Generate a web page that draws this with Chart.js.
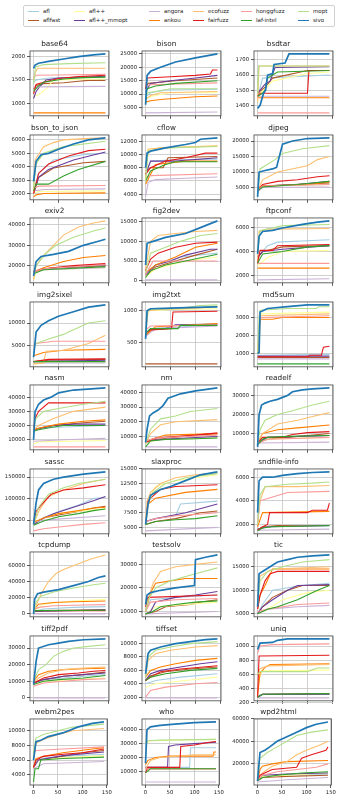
<!DOCTYPE html>
<html>
<head>
<meta charset="utf-8">
<script src="https://cdn.jsdelivr.net/npm/chart.js@4.4.1/dist/chart.umd.min.js"></script>
<style>
  body { margin: 0; background: #fff; width: 341px; height: 800px; position: relative; overflow: hidden; font-family: "DejaVu Sans", sans-serif; }
  canvas { position: absolute; }
  #legend { position: absolute; left: 23px; top: 5px; width: 312px; height: 22px; border: 1px solid #d0d0d0; border-radius: 2px; box-sizing: border-box; }
  .item { position: absolute; font-size: 5.5px; color: #222; white-space: nowrap; line-height: 7px; height: 7px; }
  .sw { position: absolute; left: 0; top: 3px; width: 11px; }
  .lbl { position: absolute; left: 15px; top: 0; }
</style>
</head>
<body>
<div id="legend"></div>
<script>
// Fuzzers, in plotting order, and their line colours
const fuzzers = ['afl', 'aflfast', 'afl++', 'afl++_mmopt', 'angora', 'ankou', 'ecofuzz', 'fairfuzz', 'honggfuzz', 'laf-intel', 'mopt', 'sivo'];
const fuzzerColors = ['#a6cee3', '#b15928', '#ffff99', '#6a3d9a', '#cab2d6', '#ff7f00', '#fdbf6f', '#e31a1c', '#fb9a99', '#33a02c', '#b2df8a', '#1f78b4'];

// Benchmarks, one panel each
const programs = ['base64', 'bison', 'bsdtar', 'bson_to_json', 'cflow', 'djpeg', 'exiv2', 'fig2dev', 'ftpconf',
  'img2sixel', 'img2txt', 'md5sum', 'nasm', 'nm', 'readelf', 'sassc', 'slaxproc', 'sndfile-info',
  'tcpdump', 'testsolv', 'tic', 'tiff2pdf', 'tiffset', 'uniq', 'webm2pes', 'who', 'wpd2html'];

// Tick labels
const hourTicks = [0, 50, 100, 150];
const yTicks = [
  [1000, 1500, 2000], [5000, 10000, 15000, 20000, 25000], [1400, 1500, 1600, 1700],
  [2000, 3000, 4000, 5000, 6000], [4000, 6000, 8000, 10000, 12000], [5000, 10000, 15000, 20000],
  [20000, 30000, 40000], [0, 5000, 10000, 15000], [2000, 4000, 6000],
  [5000, 10000], [500, 1000], [1000, 2000, 3000],
  [10000, 20000, 30000, 40000], [10000, 20000, 30000, 40000], [10000, 20000, 30000],
  [50000, 100000, 150000], [5000, 7500, 10000, 12500, 15000], [2000, 4000, 6000],
  [0, 20000, 40000, 60000], [10000, 20000, 30000], [5000, 10000, 15000],
  [0, 10000, 20000, 30000], [2000, 4000, 6000, 8000, 10000], [200, 400, 600, 800, 1000],
  [4000, 6000, 8000, 10000], [10000, 20000, 30000, 40000], [20000, 40000, 60000]
];

// Coverage over time: per benchmark, one [hour, edges] series per fuzzer (same order as fuzzers)
const base64 = [
  [[0,1450],[5,1500],[30,1540],[144,1560]],
  [[0,1300],[5,1380],[20,1420],[60,1440],[90,1470],[110,1490],[144,1490]],
  [[0,1150],[10,1180],[25,1300],[40,1500],[144,1520]],
  [[0,1100],[5,1250],[12,1350],[25,1500],[50,1540],[144,1580]],
  [[0,1350],[144,1360]],
  [[0,790],[144,790]],
  [[0,1500],[3,1650],[8,1750],[144,1750]],
  [[0,1200],[5,1400],[20,1450],[50,1530],[90,1570],[144,1600]],
  [[0,1550],[5,1600],[80,1610],[144,1620]],
  [[0,1250],[8,1350],[20,1450],[60,1520],[100,1550],[144,1560]],
  [[0,1400],[4,1780],[20,1830],[70,1850],[144,1870]],
  [[0,1750],[3,1820],[10,1860],[30,1900],[60,1950],[90,2000],[120,2040],[144,2060]]
];
const bison = [
  [[0,9000],[10,10500],[40,11500],[144,11800]],
  [[0,12000],[5,14000],[60,15000],[144,16000]],
  [[0,8500],[20,9500],[50,10500],[144,10500]],
  [[0,11000],[10,14000],[50,15000],[100,16000],[144,17000]],
  [[0,3000],[144,3300]],
  [[0,7000],[10,7500],[30,8000],[100,9000],[144,9300]],
  [[0,8000],[10,9500],[30,10500],[144,11000]],
  [[0,12000],[3,16000],[50,16500],[100,17000],[130,17500],[134,19000],[144,19000]],
  [[0,13000],[10,13500],[144,14200]],
  [[0,7000],[3,12000],[20,13000],[60,14000],[144,15000]],
  [[0,9000],[5,10500],[20,11000],[50,12000],[144,12000]],
  [[0,6000],[3,17000],[10,18500],[30,20000],[60,22000],[100,23500],[144,25000]]
];
const bsdtar = [
  [[0,1450],[10,1580],[144,1600]],
  [[0,1480],[15,1520],[30,1580],[100,1630],[144,1630]],
  [[0,1460],[30,1560],[100,1610],[144,1620]],
  [[0,1480],[15,1540],[25,1560],[35,1650],[144,1655]],
  [[0,1460],[144,1460]],
  [[0,1450],[144,1450]],
  [[0,1420],[3,1660],[144,1660]],
  [[0,1460],[5,1480],[100,1480],[103,1630],[144,1630]],
  [[0,1350],[144,1350]],
  [[0,1460],[10,1480],[15,1500],[20,1580],[40,1620],[144,1630]],
  [[0,1480],[2,1660],[144,1660]],
  [[0,1380],[5,1400],[12,1480],[16,1500],[20,1600],[30,1610],[33,1670],[55,1680],[63,1740],[144,1740]]
];
const bson_to_json = [
  [[0,2200],[10,3500],[40,4500],[100,4900],[144,5000]],
  [[0,2000],[10,3200],[40,3900],[100,4300],[144,4400]],
  [[0,2000],[10,2150],[144,2200]],
  [[0,2000],[10,3200],[30,3800],[80,4500],[144,5100]],
  [[0,2200],[20,2300],[144,2350]],
  [[0,1750],[5,1900],[20,2000],[144,2050]],
  [[0,2000],[3,4500],[20,5500],[40,5800],[60,6000],[100,6100],[144,6150]],
  [[0,2000],[10,3500],[30,4200],[70,4800],[110,5200],[144,5300]],
  [[0,2400],[10,2550],[144,2600]],
  [[0,2200],[5,2700],[30,2700],[60,3300],[90,3800],[144,4400]],
  [[0,2500],[5,4200],[20,5000],[60,5500],[144,5900]],
  [[0,2900],[5,4400],[15,4900],[30,5000],[50,5300],[80,5700],[110,6000],[144,6150]]
];
const cflow = [
  [[0,7000],[10,9000],[60,9200],[144,9300]],
  [[0,7500],[10,8000],[35,8000],[45,9500],[144,9700]],
  [[0,6000],[5,10800],[40,11000],[144,11300]],
  [[0,7000],[10,9000],[60,9000],[144,9500]],
  [[0,3600],[5,5800],[20,6200],[80,6400],[144,6600]],
  [[0,5500],[20,8500],[80,9000],[144,9000]],
  [[0,6000],[5,10800],[30,11000],[144,11300]],
  [[0,7000],[10,8000],[40,9000],[80,9500],[120,10200],[144,10200]],
  [[0,6500],[10,6800],[144,7100]],
  [[0,6000],[10,7500],[40,8500],[60,8900],[144,8900]],
  [[0,6000],[5,10500],[40,11000],[144,11200]],
  [[0,8000],[3,10200],[10,10500],[40,11000],[80,11500],[100,11800],[110,12300],[144,12500]]
];
const djpeg = [
  [[0,4000],[10,5500],[144,6000]],
  [[0,4000],[10,5500],[144,6500]],
  [[0,4000],[10,5500],[144,6000]],
  [[0,4000],[10,5500],[80,6000],[144,7000]],
  [[0,3500],[10,5000],[144,5200]],
  [[0,4000],[10,5500],[100,6000],[144,6800]],
  [[0,4000],[10,7500],[40,10000],[100,12000],[120,14000],[144,15000]],
  [[0,4000],[10,6000],[40,7000],[80,7500],[120,8500],[144,8800]],
  [[0,4000],[10,5500],[144,6000]],
  [[0,4000],[10,5200],[80,6000],[144,7000]],
  [[0,3000],[5,11000],[20,12500],[35,14000],[50,16000],[90,17500],[144,18500]],
  [[0,2000],[3,10000],[15,10500],[30,11000],[38,11500],[42,14000],[50,19000],[70,20000],[100,20800],[144,21000]]
];
const exiv2 = [
  [[0,17000],[20,18500],[144,20000]],
  [[0,17000],[20,18500],[144,20000]],
  [[0,13000],[5,17000],[20,18000],[144,19000]],
  [[0,17000],[20,18500],[144,20500]],
  [[0,17000],[20,18000],[144,19000]],
  [[0,17000],[20,19000],[60,22000],[100,24000],[144,25000]],
  [[0,13000],[5,20000],[20,25000],[40,30000],[60,35000],[90,39000],[120,41000],[144,42000]],
  [[0,17000],[20,18500],[80,20000],[144,21000]],
  [[0,17000],[20,18500],[144,20500]],
  [[0,16000],[20,18000],[144,19500]],
  [[0,15000],[5,20000],[25,26000],[45,30000],[80,34000],[120,37000],[144,38500]],
  [[0,15000],[5,22000],[15,24500],[40,25500],[70,27000],[100,30000],[130,32000],[144,33000]]
];
const fig2dev = [
  [[0,1000],[20,4000],[70,6000],[144,7000]],
  [[0,1000],[20,3500],[60,5000],[100,6500],[144,8000]],
  [[0,1000],[20,3000],[80,5000],[144,6000]],
  [[0,1500],[20,4000],[50,5000],[80,6500],[130,8000],[144,8000]],
  [[0,200],[144,200]],
  [[0,2000],[20,4000],[60,6000],[100,8500],[144,9500]],
  [[0,3000],[10,10000],[25,11500],[60,12000],[100,12500],[144,12800]],
  [[0,2500],[10,5500],[25,7000],[60,8500],[100,9500],[144,9800]],
  [[0,1500],[15,5000],[144,5000]],
  [[0,800],[10,2500],[40,4000],[80,5000],[144,6700]],
  [[0,2000],[10,7000],[40,8500],[70,10000],[110,11500],[144,12000]],
  [[0,4000],[3,9500],[15,10000],[40,11000],[80,12000],[110,13500],[130,14500],[144,15200]]
];
const ftpconf = [
  [[0,3500],[20,4500],[40,4800],[144,5000]],
  [[0,3500],[10,4000],[50,4400],[144,4500]],
  [[0,2800],[20,3500],[50,4000],[144,4100]],
  [[0,3500],[10,4000],[50,4200],[144,4500]],
  [[0,1600],[144,1700]],
  [[0,2600],[144,2600]],
  [[0,3000],[3,5700],[20,5900],[144,5950]],
  [[0,3000],[5,4100],[30,4100],[40,4500],[144,4600]],
  [[0,3000],[144,3000]],
  [[0,3000],[10,3800],[50,4000],[100,4400],[144,4500]],
  [[0,4000],[5,5800],[30,6000],[50,6200],[144,6300]],
  [[0,3800],[3,5300],[10,5700],[30,5800],[50,6000],[90,6300],[120,6500],[144,6600]]
];
const img2sixel = [
  [[0,1500],[144,1600]],
  [[0,1500],[30,1800],[144,2000]],
  [[0,1000],[30,1400],[144,1500]],
  [[0,1500],[144,1800]],
  [[0,1200],[144,1200]],
  [[0,2800],[20,3500],[60,4000],[144,4200]],
  [[0,1000],[20,1200],[25,3800],[60,4000],[110,5500],[144,7300]],
  [[0,1500],[30,2000],[144,2100]],
  [[0,5000],[5,5500],[40,6000],[144,6000]],
  [[0,1500],[144,1500]],
  [[0,4500],[5,5500],[30,6500],[60,7500],[80,8500],[110,10000],[144,10500]],
  [[0,2500],[5,8000],[15,9500],[30,10500],[50,11500],[80,12500],[110,13500],[144,14000]]
];
const img2txt = [
  [[0,650],[10,720],[144,780]],
  [[0,170],[144,170]],
  [[0,600],[5,1000],[60,1020],[144,1030]],
  [[0,600],[10,700],[40,720],[60,780],[144,790]],
  [[0,600],[20,720],[144,760]],
  [[0,620],[20,750],[100,780],[144,800]],
  [[0,650],[5,1000],[30,1020],[100,1040],[144,1070]],
  [[0,650],[10,700],[52,720],[55,980],[144,990]],
  [[0,700],[10,760],[144,780]],
  [[0,650],[10,720],[65,720],[70,770],[144,770]],
  [[0,700],[5,1020],[60,1030],[110,1080],[144,1090]],
  [[0,560],[3,1000],[10,1030],[50,1040],[100,1050],[144,1060]]
];
const md5sum = [
  [[0,900],[144,950]],
  [[0,780],[144,780]],
  [[0,1000],[5,3200],[144,3300]],
  [[0,850],[144,850]],
  [[0,700],[144,700]],
  [[0,1000],[5,2900],[30,2900],[50,3000],[144,3000]],
  [[0,1000],[3,1000],[5,3100],[144,3200]],
  [[0,820],[100,820],[105,900],[128,900],[132,1350],[144,1400]],
  [[0,1000],[5,3000],[144,3100]],
  [[0,420],[144,420]],
  [[0,1000],[3,3100],[5,3400],[60,3500],[118,3500],[122,3600],[144,3600]],
  [[0,1000],[3,1050],[5,3300],[20,3500],[60,3600],[100,3700],[144,3700]]
];
const nasm = [
  [[0,17000],[20,18500],[144,20000]],
  [[0,17000],[10,18000],[40,20000],[100,22000],[144,23000]],
  [[0,7000],[10,8500],[144,9500]],
  [[0,17000],[40,20000],[80,21000],[144,21000]],
  [[0,9000],[60,10000],[144,11000]],
  [[0,17000],[20,19000],[50,21000],[100,23000],[144,24000]],
  [[0,17000],[10,20000],[40,25000],[80,30000],[144,33000]],
  [[0,18000],[3,25000],[10,30000],[30,36000],[144,36000]],
  [[0,5000],[144,5000]],
  [[0,16000],[10,17000],[40,19000],[60,20000],[144,20000]],
  [[0,18000],[5,25000],[20,30000],[50,32000],[100,35000],[144,37000]],
  [[0,10000],[3,30000],[10,35000],[20,38000],[35,40000],[50,43000],[80,45000],[144,46500]]
];
const nm = [
  [[0,7000],[30,8000],[144,9000]],
  [[0,6000],[20,8000],[60,9500],[100,11000],[144,12000]],
  [[0,6000],[30,8000],[144,9000]],
  [[0,7000],[30,8000],[80,9000],[144,10000]],
  [[0,3000],[144,3000]],
  [[0,7000],[40,11000],[144,12000]],
  [[0,5000],[10,12000],[30,18000],[60,20000],[144,21500]],
  [[0,6000],[20,9000],[60,10000],[100,11000],[144,12500]],
  [[0,7000],[20,9000],[80,10000],[144,11000]],
  [[0,3000],[10,7000],[40,8000],[100,8500],[144,9000]],
  [[0,5000],[10,15000],[30,22000],[60,24000],[90,27000],[144,29000]],
  [[0,6000],[3,15000],[8,24000],[15,26000],[25,28000],[35,31000],[45,36000],[70,39000],[100,41000],[144,43000]]
];
const readelf = [
  [[0,6000],[20,8000],[144,9000]],
  [[0,5000],[20,7000],[60,8000],[100,9000],[144,10000]],
  [[0,5000],[20,7000],[144,8000]],
  [[0,5000],[20,8000],[144,9000]],
  [[0,5000],[144,5500]],
  [[0,5000],[10,10000],[40,12000],[80,13000],[144,14500]],
  [[0,5000],[10,10000],[40,15000],[80,17000],[110,19000],[144,21000]],
  [[0,5000],[10,8000],[50,8000],[70,9500],[100,10500],[144,11000]],
  [[0,5000],[20,7000],[144,8000]],
  [[0,4000],[10,7000],[20,8000],[60,8500],[144,9000]],
  [[0,5000],[5,12000],[15,17000],[40,20000],[70,22000],[110,25000],[144,27000]],
  [[0,3000],[3,20000],[8,25000],[15,26000],[25,27000],[40,28000],[50,29000],[60,30000],[70,32000],[90,33000],[110,33500],[144,34000]]
];
const sassc = [
  [[0,40000],[20,55000],[50,70000],[90,85000],[120,100000],[144,103000]],
  [[0,40000],[20,55000],[50,62000],[90,70000],[120,78000],[144,82000]],
  [[0,40000],[20,55000],[50,65000],[100,72000],[144,76000]],
  [[0,40000],[20,55000],[40,65000],[80,80000],[120,95000],[144,105000]],
  [[0,45000],[20,50000],[144,60000]],
  [[0,45000],[20,55000],[50,65000],[90,72000],[120,78000],[144,80000]],
  [[0,40000],[10,70000],[30,105000],[60,120000],[100,135000],[144,145000]],
  [[0,45000],[5,70000],[15,85000],[35,110000],[60,120000],[100,125000],[144,132000]],
  [[0,25000],[20,30000],[60,35000],[100,40000],[144,44000]],
  [[0,38000],[20,48000],[50,58000],[90,65000],[120,72000],[144,76000]],
  [[0,40000],[10,80000],[30,110000],[60,125000],[90,135000],[144,145000]],
  [[0,40000],[5,90000],[10,120000],[20,135000],[40,145000],[60,150000],[100,157000],[144,162000]]
];
const slaxproc = [
  [[0,6000],[20,6500],[60,7000],[70,9000],[144,9500]],
  [[0,5500],[20,6000],[60,6500],[110,7500],[144,7800]],
  [[0,6000],[5,9500],[20,12000],[60,13000],[144,14000]],
  [[0,6000],[20,6500],[80,7500],[144,9000]],
  [[0,4400],[144,5000]],
  [[0,5500],[5,9000],[20,10000],[80,11000],[144,11500]],
  [[0,6000],[3,9500],[10,11000],[30,12500],[60,13500],[100,14000],[144,14300]],
  [[0,5500],[5,9500],[10,10000],[30,11500],[60,12000],[144,12300]],
  [[0,6000],[20,6500],[60,7000],[100,7200],[144,7500]],
  [[0,5500],[20,6000],[60,6300],[100,6500],[144,7000]],
  [[0,5500],[5,9000],[15,11000],[40,12500],[80,13500],[144,14200]],
  [[0,5500],[5,9000],[10,10500],[20,11000],[30,11500],[50,12000],[80,13000],[110,14000],[144,14500]]
];
const sndfile_info = [
  [[0,1600],[20,1800],[144,1850]],
  [[0,1500],[10,1800],[40,1900],[144,1900]],
  [[0,1600],[20,1800],[144,1900]],
  [[0,1600],[20,1800],[144,1900]],
  [[0,1500],[144,1600]],
  [[0,1800],[10,3000],[144,3100]],
  [[0,2000],[5,4000],[15,5200],[80,5200],[144,5300]],
  [[0,1500],[10,1800],[20,2000],[24,3000],[100,3000],[110,3200],[140,3200],[144,3800]],
  [[0,2000],[5,4000],[20,4200],[60,4700],[144,4800]],
  [[0,1450],[10,1700],[30,1800],[144,1900]],
  [[0,2000],[5,4500],[15,5200],[60,5400],[110,5500],[144,5600]],
  [[0,3000],[3,5700],[10,6000],[30,6000],[50,6150],[80,6300],[110,6400],[144,6450]]
];
const tcpdump = [
  [[0,3000],[20,6000],[80,8000],[144,9000]],
  [[0,3000],[20,4000],[144,5000]],
  [[0,2000],[20,12000],[80,16000],[144,18000]],
  [[0,3000],[144,5000]],
  [[0,0],[144,0]],
  [[0,5000],[10,12000],[40,14000],[80,15000],[144,16000]],
  [[0,0],[5,10000],[15,25000],[30,40000],[45,50000],[60,55000],[90,62000],[115,68000],[144,73000]],
  [[0,4000],[144,4000]],
  [[0,5000],[10,8000],[40,10000],[100,11000],[144,11500]],
  [[0,4000],[144,4500]],
  [[0,0],[5,15000],[15,22000],[40,27000],[80,32000],[120,36000],[144,38000]],
  [[0,0],[2,18000],[8,25000],[20,27000],[50,30000],[80,35000],[110,40000],[130,45000],[144,47000]]
];
const testsolv = [
  [[0,10000],[10,15000],[60,16000],[144,17000]],
  [[0,9000],[20,10000],[40,12000],[90,13000],[110,14000],[144,15000]],
  [[0,9000],[20,12000],[144,14000]],
  [[0,9000],[10,10000],[20,14000],[60,16000],[100,17000],[144,18500]],
  [[0,9000],[144,10000]],
  [[0,10000],[10,18000],[20,22000],[50,23000],[80,24000],[144,24000]],
  [[0,10000],[5,15000],[15,22000],[30,27000],[60,29000],[100,30000],[144,31000]],
  [[0,12000],[5,16000],[144,17000]],
  [[0,10000],[10,14000],[60,15000],[144,15500]],
  [[0,9000],[10,9500],[30,12000],[60,13000],[100,14000],[144,14500]],
  [[0,10000],[5,15000],[20,20000],[50,23000],[100,26000],[144,28500]],
  [[0,13000],[3,17000],[10,18000],[30,19000],[60,20000],[98,21000],[100,32000],[120,33000],[144,34000]]
];
const tic = [
  [[0,5000],[10,7000],[30,10000],[90,11000],[144,11500]],
  [[0,5000],[10,6500],[30,8500],[60,10000],[90,11000],[144,11000]],
  [[0,5000],[20,6000],[50,8000],[100,9500],[144,10000]],
  [[0,5000],[10,6500],[30,8000],[60,10000],[80,11000],[144,11200]],
  [[0,5000],[20,6000],[80,6500],[144,6800]],
  [[0,6000],[5,9000],[15,11000],[30,14500],[144,14500]],
  [[0,8000],[5,13000],[30,14500],[144,15000]],
  [[0,6000],[5,9000],[15,12000],[25,13500],[40,14000],[144,14000]],
  [[0,5500],[20,6000],[80,7000],[144,7300]],
  [[0,5000],[20,6000],[40,6500],[80,8000],[120,10000],[144,11000]],
  [[0,7000],[5,12000],[20,14000],[50,15000],[90,16000],[144,16500]],
  [[0,6500],[3,13500],[10,14000],[25,15000],[40,16000],[60,16500],[80,17000],[110,17300],[144,17500]]
];
const tiff2pdf = [
  [[0,9000],[20,11000],[60,12000],[100,13000],[144,14000]],
  [[0,9000],[20,11000],[60,13000],[100,14000],[144,15500]],
  [[0,8000],[20,10000],[80,11000],[144,12000]],
  [[0,9000],[20,11000],[60,13000],[100,14000],[144,15000]],
  [[0,0],[144,0]],
  [[0,10000],[10,14000],[30,16000],[60,17000],[100,17500],[144,17800]],
  [[0,9000],[10,12000],[30,15000],[60,17000],[100,18000],[144,18500]],
  [[0,9000],[20,12000],[50,14000],[90,15000],[120,16000],[144,16500]],
  [[0,7000],[20,9000],[60,10000],[100,11000],[144,11500]],
  [[0,8000],[20,10000],[50,11000],[100,12000],[144,13500]],
  [[0,10000],[10,17000],[25,20000],[40,25000],[60,28000],[80,30000],[110,31000],[144,32000]],
  [[0,8000],[5,22000],[10,30000],[30,32000],[50,33000],[70,34000],[100,35000],[144,35500]]
];
const tiffset = [
  [[0,4000],[20,4500],[70,5000],[144,5500]],
  [[0,4500],[10,5200],[40,5800],[90,6200],[144,6500]],
  [[0,3500],[20,4000],[80,4500],[144,5000]],
  [[0,4500],[10,5500],[30,6000],[70,6500],[110,7000],[144,7300]],
  [[0,1900],[144,1900]],
  [[0,5000],[10,6000],[30,6500],[60,7000],[100,7500],[144,7800]],
  [[0,5000],[5,7500],[20,8500],[50,9000],[100,9500],[144,9700]],
  [[0,4500],[10,5000],[30,5800],[70,6200],[144,6700]],
  [[0,2000],[10,3000],[40,3500],[100,4000],[144,4200]],
  [[0,4500],[10,5000],[40,5500],[90,6000],[144,6300]],
  [[0,5000],[5,8000],[20,9000],[50,9500],[90,10000],[144,10300]],
  [[0,5500],[5,8500],[10,9000],[30,9500],[60,10000],[90,10300],[120,10600],[144,10700]]
];
const uniq = [
  [[0,300],[10,320],[144,320]],
  [[0,280],[10,320],[144,330]],
  [[0,500],[10,650],[144,660]],
  [[0,280],[10,320],[144,320]],
  [[0,270],[144,270]],
  [[0,300],[5,620],[15,700],[25,740],[144,750]],
  [[0,600],[5,680],[20,720],[144,740]],
  [[0,280],[3,860],[144,870]],
  [[0,900],[5,1000],[30,1020],[144,1030]],
  [[0,280],[10,320],[144,330]],
  [[0,600],[5,640],[100,640],[120,690],[144,690]],
  [[0,950],[5,1040],[30,1050],[40,1080],[60,1100],[144,1100]]
];
const webm2pes = [
  [[0,5000],[10,6200],[60,6500],[144,6800]],
  [[0,5000],[10,6000],[40,6300],[100,7000],[144,7300]],
  [[0,5000],[10,6000],[60,6300],[144,6600]],
  [[0,5000],[10,6000],[60,6600],[144,7100]],
  [[0,4800],[20,5500],[144,5800]],
  [[0,5000],[5,6200],[20,6500],[60,7000],[120,7500],[144,7700]],
  [[0,6000],[5,8300],[20,8800],[50,9500],[80,10000],[144,10300]],
  [[0,5000],[5,6000],[20,6500],[60,6800],[100,7000],[144,7500]],
  [[0,7000],[5,7300],[60,7500],[144,7800]],
  [[0,3000],[3,4800],[10,4800],[15,6000],[60,6200],[144,6400]],
  [[0,7000],[5,9000],[20,9500],[50,10000],[80,10500],[144,10900]],
  [[0,6000],[5,8500],[15,8700],[30,9200],[60,9700],[90,10500],[120,11000],[144,11200]]
];
const who = [
  [[0,13000],[90,13000],[92,27000],[144,27000]],
  [[0,12000],[144,12000]],
  [[0,30000],[10,32000],[144,33000]],
  [[0,13000],[45,13000],[47,28000],[60,29000],[100,30000],[144,31000]],
  [[0,2500],[144,2500]],
  [[0,15000],[5,18000],[20,20000],[50,21000],[138,21000],[140,24000],[144,24000]],
  [[0,12000],[10,18000],[30,20000],[100,22000],[144,22000]],
  [[0,9000],[5,13000],[70,13000],[72,28000],[100,29000],[130,31000],[144,31500]],
  [[0,12000],[144,12000]],
  [[0,9000],[10,12000],[144,12000]],
  [[0,30000],[5,32000],[30,32500],[144,33000]],
  [[0,16000],[3,40000],[10,42000],[30,43000],[60,44000],[100,45000],[144,45500]]
];
const wpd2html = [
  [[0,5000],[10,9000],[60,10000],[144,11000]],
  [[0,5000],[10,8000],[60,9000],[144,10000]],
  [[0,5000],[10,9000],[60,10000],[144,12000]],
  [[0,5000],[10,10000],[60,11000],[144,12000]],
  [[0,4000],[60,6000],[144,8000]],
  [[0,5000],[5,15000],[10,18000],[30,20000],[60,22000],[144,23000]],
  [[0,5000],[10,12000],[30,18000],[60,22000],[80,28000],[100,32000],[130,37000],[144,40000]],
  [[0,5000],[5,10000],[30,15000],[80,17000],[90,25000],[110,28000],[140,32000],[144,35000]],
  [[0,5000],[10,10000],[40,13000],[80,15000],[120,17000],[144,20000]],
  [[0,5000],[10,8000],[40,10000],[90,12000],[144,13000]],
  [[0,6000],[5,25000],[20,30000],[40,35000],[60,40000],[80,45000],[110,48000],[144,50000]],
  [[0,5000],[5,30000],[15,32000],[25,35000],[40,40000],[50,42000],[80,48000],[100,52000],[120,55000],[144,57000]]
];

const coverage = [base64, bison, bsdtar, bson_to_json, cflow, djpeg, exiv2, fig2dev, ftpconf,
  img2sixel, img2txt, md5sum, nasm, nm, readelf, sassc, slaxproc, sndfile_info,
  tcpdump, testsolv, tic, tiff2pdf, tiffset, uniq, webm2pes, who, wpd2html];

// ---- legend ----
const legend = document.getElementById('legend');
const legendCols = [27, 73, 148, 192, 240, 297];
fuzzers.forEach((name, i) => {
  const col = Math.floor(i / 2), row = i % 2;
  const item = document.createElement('div');
  item.className = 'item';
  item.style.left = (legendCols[col] - 23) + 'px';
  item.style.top = (row === 0 ? 2 : 11) + 'px';
  const sw = document.createElement('div');
  sw.className = 'sw';
  sw.style.borderTop = (name === 'sivo' ? 1.6 : 1.1) + 'px solid ' + fuzzerColors[i];
  const lbl = document.createElement('div');
  lbl.className = 'lbl';
  lbl.textContent = name;
  item.appendChild(sw);
  item.appendChild(lbl);
  legend.appendChild(item);
});

// ---- panels ----
Chart.defaults.font.family = '"DejaVu Sans", sans-serif';
Chart.defaults.color = '#222';

// axes frame on all four sides
const frame = {
  id: 'frame',
  afterDatasetsDraw(chart) {
    const a = chart.chartArea, ctx = chart.ctx;
    ctx.save();
    ctx.strokeStyle = '#444';
    ctx.lineWidth = 0.8;
    ctx.strokeRect(a.left, a.top, a.right - a.left, a.bottom - a.top);
    ctx.restore();
  }
};

const colLeft = [30, 142, 254];
const plotW = 79, plotH = 66, yAxisW = 30, titleH = 14;

programs.forEach((prog, p) => {
  const row = Math.floor(p / 3), col = p % 3;
  const lastRow = row === 8;
  const plotTop = Math.round(51 + row * 83.5);
  const xAxisH = lastRow ? 14 : 4;
  const cw = yAxisW + plotW + 4, ch = titleH + plotH + xAxisH;

  const canvas = document.createElement('canvas');
  canvas.width = cw; canvas.height = ch;
  canvas.style.width = cw + 'px'; canvas.style.height = ch + 'px';
  canvas.style.left = (colLeft[col] - yAxisW) + 'px';
  canvas.style.top = (plotTop - titleH) + 'px';
  document.body.appendChild(canvas);

  const series = coverage[p];
  let lo = Infinity, hi = -Infinity;
  series.forEach(s => s.forEach(pt => { lo = Math.min(lo, pt[1]); hi = Math.max(hi, pt[1]); }));
  const pad = (hi - lo) * 0.05;

  const datasets = series.map((s, k) => ({
    label: fuzzers[k],
    data: s,
    borderColor: fuzzerColors[k],
    backgroundColor: fuzzerColors[k],
    borderWidth: fuzzers[k] === 'sivo' ? 1.7 : 1.1,
    pointRadius: 0,
    tension: 0,
    fill: false,
    order: fuzzers.length - k
  }));

  new Chart(canvas, {
    type: 'line',
    data: { datasets },
    options: {
      responsive: false,
      animation: false,
      devicePixelRatio: 1,
      layout: { padding: { left: 0, right: 4, top: 0, bottom: 0 } },
      plugins: {
        legend: { display: false },
        tooltip: { enabled: false },
        title: {
          display: true,
          text: prog,
          color: '#222',
          font: { size: 7.3, weight: 'normal', lineHeight: 1.2 },
          padding: { top: 3.2, bottom: 2 }
        }
      },
      scales: {
        x: {
          type: 'linear',
          min: -7.2, max: 151.2,
          afterBuildTicks: s => { s.ticks = hourTicks.map(v => ({ value: v })); },
          afterFit: s => { s.height = xAxisH; },
          grid: { color: '#c4c4c4', lineWidth: 0.8, tickLength: 3, tickColor: '#333', drawTicks: true },
          border: { display: false },
          ticks: { display: lastRow, font: { size: 5.3 }, padding: 1, maxRotation: 0, autoSkip: false, callback: v => String(v) }
        },
        y: {
          type: 'linear',
          min: lo - pad, max: hi + pad,
          afterBuildTicks: s => { s.ticks = yTicks[p].map(v => ({ value: v })); },
          afterFit: s => { s.width = yAxisW; },
          grid: { color: '#c4c4c4', lineWidth: 0.8, tickLength: 3, tickColor: '#333', drawTicks: true },
          border: { display: false },
          ticks: { font: { size: 5.3 }, padding: 2, autoSkip: false, callback: v => String(v) }
        }
      }
    },
    plugins: [frame]
  });
});
</script>
</body>
</html>
